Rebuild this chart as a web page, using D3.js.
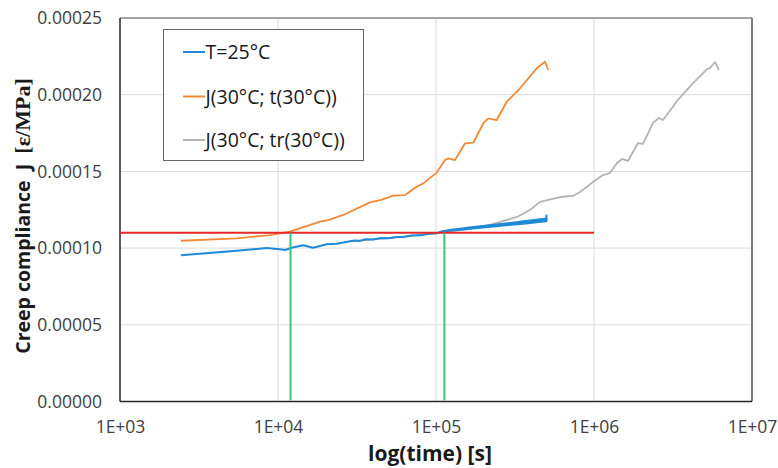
<!DOCTYPE html>
<html><head><meta charset="utf-8">
<script src="https://cdn.jsdelivr.net/npm/d3@7"></script>
<style>
body{margin:0;background:#fff;}
svg{display:block;font-family:"Open Sans",sans-serif;}
</style></head>
<body><svg id="c" width="778" height="468"></svg>
<script>
// ---- data ----
const xTicks = [1e3, 1e4, 1e5, 1e6, 1e7];
const xTickLabels = ["1E+03", "1E+04", "1E+05", "1E+06", "1E+07"];
const yTicks = [0, 0.00005, 0.0001, 0.00015, 0.0002, 0.00025];
const yTickLabels = ["0.00000", "0.00005", "0.00010", "0.00015", "0.00020", "0.00025"];

const seriesNames = ["T=25°C", "J(30°C; t(30°C))", "J(30°C; tr(30°C))"];

// T=25°C, smooth part
const blueT = [2430, 5480, 8470, 10300, 11080, 12210, 14400, 16660, 20330, 23540, 28580, 30500, 33000, 36000, 40000, 45000, 50000, 56000, 62000, 70000, 80000, 90000, 100900, 110000];
const blueJ = [9.53e-5, 9.83e-5, 1.0007e-4, 9.92e-5, 9.88e-5, 1.0026e-4, 1.0183e-4, 1.0026e-4, 1.0248e-4, 1.0287e-4, 1.0444e-4, 1.050e-4, 1.047e-4, 1.058e-4, 1.056e-4, 1.066e-4, 1.064e-4, 1.073e-4, 1.072e-4, 1.082e-4, 1.083e-4, 1.093e-4, 1.097e-4, 1.110e-4];
// T=25°C, rapidly oscillating part: lower / upper envelope of the oscillation
const blueBandT = [110000, 125000, 142500, 162500, 185000, 211500, 241000, 275000, 313000, 357000, 407000, 445000, 485000, 500000];
const blueBandLow = [1.107e-4, 1.113e-4, 1.118e-4, 1.124e-4, 1.130e-4, 1.136e-4, 1.141e-4, 1.147e-4, 1.153e-4, 1.158e-4, 1.164e-4, 1.168e-4, 1.172e-4, 1.174e-4];
const blueBandHigh = [1.112e-4, 1.121e-4, 1.128e-4, 1.135e-4, 1.142e-4, 1.149e-4, 1.155e-4, 1.162e-4, 1.169e-4, 1.176e-4, 1.183e-4, 1.188e-4, 1.192e-4, 1.194e-4];
const blueEndT = [500000, 500000];
const blueEndJ = [1.176e-4, 1.218e-4];

const orangeT = [2430, 5480, 8890, 11900, 18450, 20800, 25880, 38200, 45000, 53700, 63700, 75500, 83200, 100900, 114000, 120000, 131900, 152700, 172300, 199500, 214400, 242100, 280300, 340200, 433800, 489600, 513700];
const orangeJ = [1.048e-4, 1.064e-4, 1.085e-4, 1.107e-4, 1.172e-4, 1.183e-4, 1.216e-4, 1.298e-4, 1.314e-4, 1.342e-4, 1.346e-4, 1.400e-4, 1.422e-4, 1.492e-4, 1.574e-4, 1.585e-4, 1.574e-4, 1.683e-4, 1.687e-4, 1.814e-4, 1.846e-4, 1.835e-4, 1.954e-4, 2.042e-4, 2.172e-4, 2.215e-4, 2.161e-4];

const grayT = [29400, 59100, 100900, 164000, 219600, 325800, 393600, 455200, 609500, 736800, 815000, 985000, 1140000, 1262000, 1399000, 1504000, 1641000, 1898000, 2042000, 2362000, 2577000, 2733000, 3117000, 3350000, 4236000, 5192000, 5423000, 5831000, 6180000];
const grayJ = [1.046e-4, 1.072e-4, 1.098e-4, 1.125e-4, 1.151e-4, 1.203e-4, 1.248e-4, 1.301e-4, 1.333e-4, 1.340e-4, 1.366e-4, 1.431e-4, 1.476e-4, 1.489e-4, 1.555e-4, 1.581e-4, 1.568e-4, 1.685e-4, 1.679e-4, 1.816e-4, 1.848e-4, 1.835e-4, 1.913e-4, 1.959e-4, 2.076e-4, 2.167e-4, 2.174e-4, 2.213e-4, 2.161e-4];

const refLevel = 0.00011;
const refLineT = [1e3, 1e6];
const markerT = [12000, 113000];

// ---- layout ----
const svg = d3.select("#c");
const L = 120, R = 752, T = 18, B = 401.5;
const x = d3.scaleLog().domain([1e3, 1e7]).range([L, R]);
const y = d3.scaleLinear().domain([0, 0.00025]).range([B, T]);

// gridlines
svg.append("g").selectAll("line").data(yTicks.slice(1)).join("line")
  .attr("x1", L).attr("x2", R).attr("y1", d => y(d)).attr("y2", d => y(d))
  .attr("stroke", "#dcdcdc").attr("stroke-width", 1);
svg.append("g").selectAll("line").data(xTicks.slice(1, -1)).join("line")
  .attr("x1", d => x(d)).attr("x2", d => x(d)).attr("y1", T).attr("y2", B)
  .attr("stroke", "#dcdcdc").attr("stroke-width", 1);

// axes
const xAxis = d3.axisBottom(x).tickValues(xTicks).tickFormat((d, i) => xTickLabels[i]).tickSize(0).tickPadding(19);
const gx = svg.append("g").attr("transform", `translate(0,${B})`).call(xAxis);
gx.select(".domain").remove();
gx.selectAll("text").attr("font-size", 17.5).attr("fill", "#404040").attr("font-family", "Open Sans");

const yAxis = d3.axisLeft(y).tickValues(yTicks).tickFormat((d, i) => yTickLabels[i]).tickSize(0).tickPadding(18);
const gy = svg.append("g").attr("transform", `translate(${L},0)`).call(yAxis);
gy.select(".domain").remove();
gy.selectAll("text").attr("font-size", 17.5).attr("fill", "#404040").attr("font-family", "Open Sans");

// frame
svg.append("line").attr("x1", L).attr("x2", R).attr("y1", T).attr("y2", T).attr("stroke", "#8c8c8c").attr("stroke-width", 1.5);
svg.append("line").attr("x1", R).attr("x2", R).attr("y1", T).attr("y2", B).attr("stroke", "#7f7f7f").attr("stroke-width", 2);
svg.append("line").attr("x1", L).attr("x2", L).attr("y1", T).attr("y2", B).attr("stroke", "#262626").attr("stroke-width", 1.5);
svg.append("line").attr("x1", L).attr("x2", R).attr("y1", B).attr("y2", B).attr("stroke", "#262626").attr("stroke-width", 1.5);

// series
const line = d3.line().x(d => x(d[0])).y(d => y(d[1]));
const zip = (a, b) => a.map((v, i) => [v, b[i]]);
const blueColor = "#1f8ad6", orangeColor = "#f28a35", grayColor = "#b3b3b3";

svg.append("path").datum(zip(orangeT, orangeJ)).attr("d", line).attr("fill", "none")
  .attr("stroke", orangeColor).attr("stroke-width", 1.8).attr("stroke-linejoin", "round");
svg.append("path").datum(zip(grayT, grayJ)).attr("d", line).attr("fill", "none")
  .attr("stroke", grayColor).attr("stroke-width", 1.8).attr("stroke-linejoin", "round");
// blue smooth part
svg.append("path").datum(zip(blueT, blueJ)).attr("d", line).attr("fill", "none")
  .attr("stroke", blueColor).attr("stroke-width", 2).attr("stroke-linejoin", "round");
// blue oscillating band (envelope)
const band = d3.area().x(d => x(d.t)).y0(d => y(d.lo)).y1(d => y(d.hi));
svg.append("path").datum(blueBandT.map((t, i) => ({t, lo: blueBandLow[i], hi: blueBandHigh[i]})))
  .attr("d", band).attr("fill", blueColor).attr("stroke", blueColor).attr("stroke-width", 1.6)
  .attr("stroke-linejoin", "round");
svg.append("path").datum(zip(blueEndT, blueEndJ)).attr("d", line).attr("fill", "none")
  .attr("stroke", blueColor).attr("stroke-width", 2);

// reference line
svg.append("line").attr("x1", x(refLineT[0])).attr("x2", x(refLineT[1]))
  .attr("y1", y(refLevel)).attr("y2", y(refLevel)).attr("stroke", "#e8262b").attr("stroke-width", 1.8);
// marker lines
svg.append("g").selectAll("line").data(markerT).join("line")
  .attr("x1", d => x(d)).attr("x2", d => x(d)).attr("y1", y(refLevel)).attr("y2", B - 1)
  .attr("stroke", "#3cc47c").attr("stroke-width", 2);

// legend
const legendColors = [blueColor, orangeColor, grayColor];
const lg = svg.append("g");
lg.append("rect").attr("x", 163.5).attr("y", 29.5).attr("width", 200).attr("height", 131)
  .attr("fill", "#fff").attr("stroke", "#666").attr("stroke-width", 1);
const rows = [52, 96.5, 140];
seriesNames.forEach((name, i) => {
  lg.append("line").attr("x1", 183).attr("x2", 205).attr("y1", rows[i]).attr("y2", rows[i])
    .attr("stroke", legendColors[i]).attr("stroke-width", 2);
  lg.append("text").attr("x", 205.5).attr("y", rows[i]).attr("dy", "0.36em")
    .attr("font-size", 19.5).attr("fill", "#1a1a1a").text(name);
});

// axis titles
svg.append("text").attr("x", 430).attr("y", 461).attr("text-anchor", "middle")
  .attr("font-size", 21).attr("font-weight", "bold").attr("fill", "#1a1a1a").text("log(time) [s]");
const yt = svg.append("text").attr("transform", "translate(30,216) rotate(-90)").attr("text-anchor", "middle")
  .attr("font-size", 19.5).attr("font-weight", "bold").attr("fill", "#1a1a1a").style("white-space", "pre");
yt.append("tspan").text("Creep compliance  J  ");
yt.append("tspan").attr("font-family", "Liberation Serif").attr("font-size", 22).text("[ε/MPa]");
</script></body></html>
